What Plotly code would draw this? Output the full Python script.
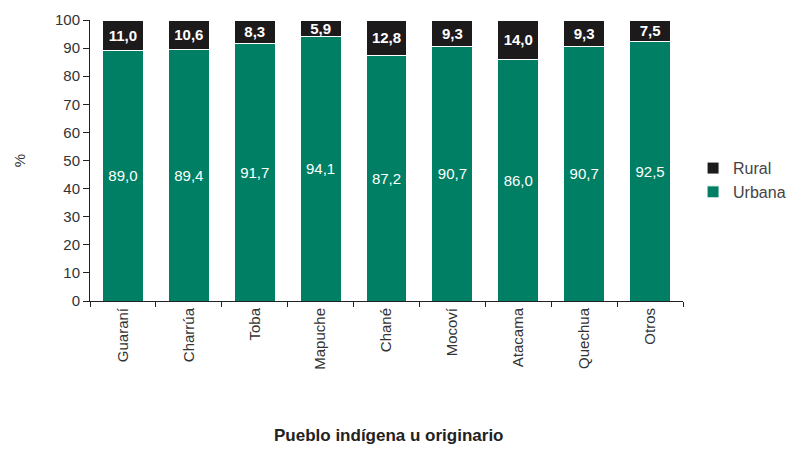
import plotly.graph_objects as go

categorias = ["Guaraní", "Charrúa", "Toba", "Mapuche", "Chané", "Mocoví", "Atacama", "Quechua", "Otros"]
urbana = [89.0, 89.4, 91.7, 94.1, 87.2, 90.7, 86.0, 90.7, 92.5]
rural = [11.0, 10.6, 8.3, 5.9, 12.8, 9.3, 14.0, 9.3, 7.5]

def fmt(v):
    return f"{v:.1f}".replace(".", ",")

FONT = "Liberation Sans, Arial, sans-serif"
GREEN = "#007f64"
BLACK = "#1c1a1b"

fig = go.Figure()
fig.add_trace(go.Bar(
    x=categorias, y=urbana, name="Urbana",
    marker=dict(color=GREEN, line=dict(color="white", width=1)),
    text=[fmt(v) for v in urbana], textposition="inside",
    insidetextanchor="middle",
    textfont=dict(color="white", size=15, family=FONT),
))
fig.add_trace(go.Bar(
    x=categorias, y=rural, name="Rural",
    marker=dict(color=BLACK, line=dict(color="white", width=1)),
    text=["<b>" + fmt(v) + "</b>" for v in rural], textposition="inside",
    insidetextanchor="middle",
    textfont=dict(color="white", size=15, family=FONT),
))

fig.update_layout(
    barmode="stack",
    bargap=0.38,
    width=780, height=441,
    margin=dict(l=82, r=8, t=12, b=148, autoexpand=False),
    plot_bgcolor="white", paper_bgcolor="white",
    font=dict(family=FONT, size=14, color="#333333"),
    uniformtext=dict(minsize=15, mode="show"),
    legend=dict(x=0.874, y=0.43, xanchor="left", yanchor="middle",
                font=dict(size=16, color="#444444"),
                traceorder="reversed", tracegroupgap=0),
    xaxis=dict(
        domain=[0, 593 / 690],
        showline=True, linecolor="#222222", linewidth=1,
        ticks="outside", tickson="boundaries", ticklen=5, tickcolor="#222222",
        tickangle=-90, tickfont=dict(size=15, color="#333333"),
        showgrid=False,
    ),
    yaxis=dict(
        range=[0, 100], dtick=10, showline=True, linecolor="#222222", linewidth=1,
        ticks="outside", ticklen=6, tickcolor="#222222",
        tickfont=dict(size=15, color="#333333"), showgrid=False,
        title=dict(text="%", font=dict(size=15, color="#333333"), standoff=25),
    ),
    annotations=[dict(
        text="<b>Pueblo indígena u originario</b>", xref="paper", yref="paper",
        x=(389 - 90) / 593 * (593 / 690), y=(293 - 427) / 281,
        xanchor="center", yanchor="middle",
        showarrow=False,
        font=dict(size=17, color="#222222"),
    )],
)

fig.write_html("out.html")
